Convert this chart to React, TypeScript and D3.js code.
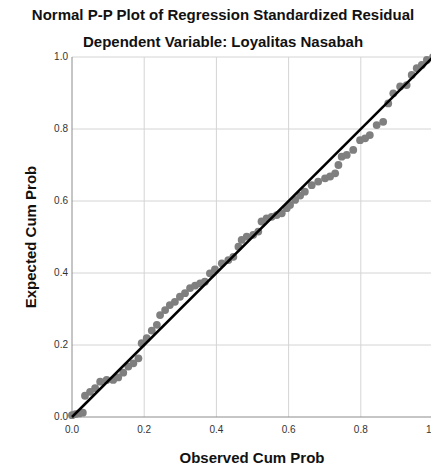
import React, { useEffect } from "react";
import * as d3 from "d3";

const observed = [
  0.0, 0.01, 0.02, 0.03, 0.036, 0.05, 0.064, 0.078, 0.096, 0.114, 0.128, 0.142,
  0.156, 0.17, 0.184, 0.193, 0.207, 0.221, 0.235, 0.244, 0.258, 0.271, 0.285,
  0.299, 0.313, 0.327, 0.341, 0.355, 0.368, 0.382, 0.396, 0.415, 0.433, 0.447,
  0.461, 0.47, 0.484, 0.502, 0.516, 0.525, 0.539, 0.553, 0.567, 0.581, 0.595,
  0.604, 0.618, 0.632, 0.645, 0.664, 0.682, 0.701, 0.715, 0.729, 0.738, 0.747,
  0.761, 0.779, 0.798, 0.812, 0.825, 0.844, 0.862, 0.876, 0.89, 0.909, 0.927,
  0.941, 0.955, 0.969, 0.983, 1.0,
];
const expected = [
  0.005, 0.008, 0.01, 0.012, 0.059, 0.07, 0.08, 0.098, 0.103, 0.103, 0.11, 0.123,
  0.14, 0.149, 0.163, 0.205, 0.219, 0.24, 0.256, 0.283, 0.297, 0.311, 0.32,
  0.334, 0.344, 0.358, 0.365, 0.371, 0.376, 0.399, 0.41, 0.427, 0.436, 0.445,
  0.473, 0.492, 0.501, 0.506, 0.515, 0.543, 0.552, 0.556, 0.561, 0.566, 0.58,
  0.589, 0.603, 0.615, 0.626, 0.644, 0.654, 0.663, 0.668, 0.677, 0.7, 0.723,
  0.728, 0.742, 0.769, 0.774, 0.783, 0.811, 0.82, 0.871, 0.899, 0.918, 0.922,
  0.95, 0.969, 0.978, 0.992, 1.0,
];
const ticks = [0, 0.2, 0.4, 0.6, 0.8, 1.0];

const title = "Normal P-P Plot of Regression Standardized Residual";
const subtitle = "Dependent Variable: Loyalitas Nasabah";

const width = 431;
const height = 465;
const margin = { top: 57, right: -2, bottom: 48, left: 72 };
const font = "'Liberation Sans', Arial, sans-serif";

export default function App() {
  useEffect(() => {
    document.body.style.margin = "0";
  }, []);

  const x = d3
    .scaleLinear()
    .domain([0, 1])
    .range([margin.left, width - margin.right]);
  const y = d3
    .scaleLinear()
    .domain([0, 1])
    .range([height - margin.bottom, margin.top]);

  const points = observed.map((o, i) => ({ o, e: expected[i] }));
  const diag = d3.line<number>()
    .x((d) => x(d))
    .y((d) => y(d));

  return (
    <svg
      width={width}
      height={height}
      style={{ display: "block", background: "#fff" }}
      fontFamily={font}
    >
      {/* grid */}
      {ticks.slice(1).map((t) => (
        <g key={`g-${t}`}>
          <line x1={x(t)} x2={x(t)} y1={y(0)} y2={y(1)} stroke="#d4d4d4" strokeWidth={1} />
          <line x1={x(0)} x2={x(1)} y1={y(t)} y2={y(t)} stroke="#d4d4d4" strokeWidth={1} />
        </g>
      ))}

      {/* axes */}
      <line x1={x(0)} x2={x(0)} y1={y(0)} y2={y(1)} stroke="#8c8c8c" strokeWidth={1} />
      <line x1={x(0)} x2={x(1)} y1={y(0)} y2={y(0)} stroke="#8c8c8c" strokeWidth={1} />

      {/* points */}
      {points.map((p, i) => (
        <circle key={i} cx={x(p.o)} cy={y(p.e)} r={3.9} fill="#7f7f7f" />
      ))}

      {/* reference line */}
      <path d={diag([0, 1]) || ""} stroke="#000" strokeWidth={2.5} fill="none" />

      {/* tick labels */}
      {ticks.map((t) => (
        <text
          key={`xt-${t}`}
          x={x(t)}
          y={y(0) + 16}
          textAnchor="middle"
          fontSize={10}
          fill="#333"
        >
          {t.toFixed(1)}
        </text>
      ))}
      {ticks.map((t) => (
        <text
          key={`yt-${t}`}
          x={x(0) - 4}
          y={y(t) + 3}
          textAnchor="end"
          fontSize={10}
          fill="#333"
        >
          {t.toFixed(1)}
        </text>
      ))}

      {/* titles */}
      <text x={223} y={20} textAnchor="middle" fontSize={15} fontWeight="bold" fill="#111">
        {title}
      </text>
      <text x={223} y={47} textAnchor="middle" fontSize={15} fontWeight="bold" fill="#111">
        {subtitle}
      </text>
      <text x={252} y={463} textAnchor="middle" fontSize={15} fontWeight="bold" fill="#111">
        Observed Cum Prob
      </text>
      <text
        transform={`translate(36, ${(y(0) + y(1)) / 2}) rotate(-90)`}
        textAnchor="middle"
        fontSize={15}
        fontWeight="bold"
        fill="#111"
      >
        Expected Cum Prob
      </text>
    </svg>
  );
}
